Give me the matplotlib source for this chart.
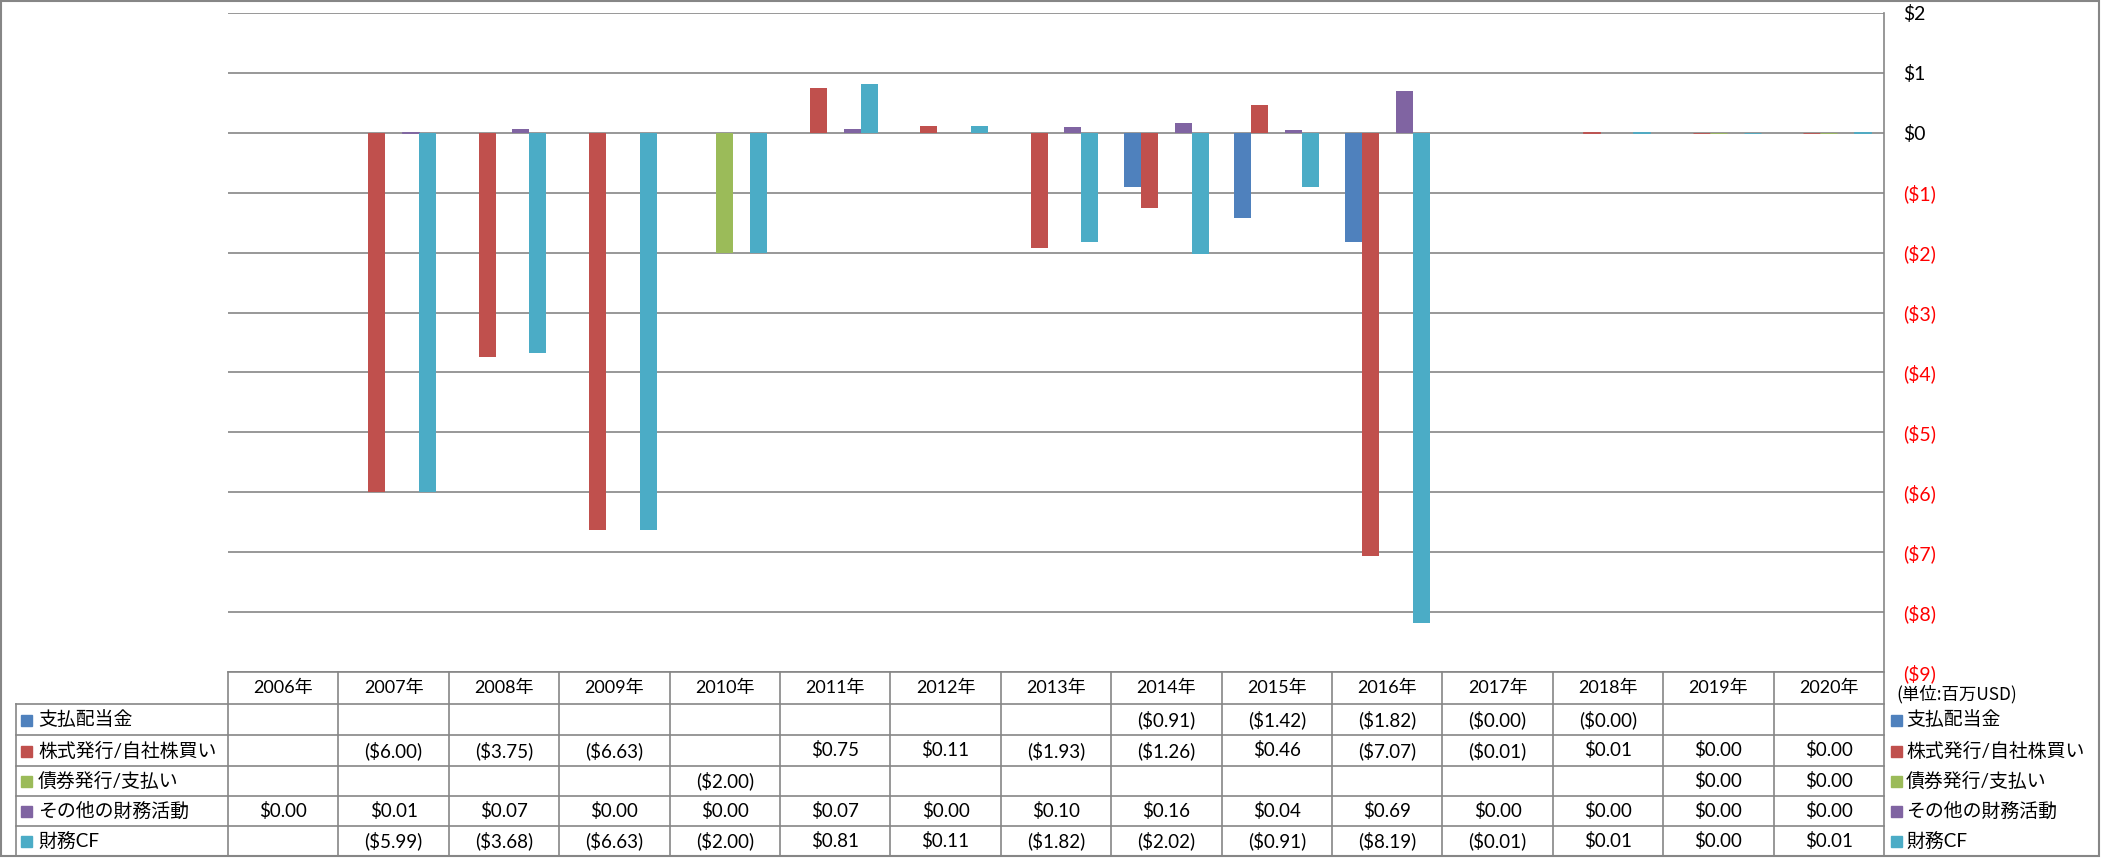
import numpy as np
import matplotlib
matplotlib.use("Agg")
import matplotlib.pyplot as plt
from matplotlib.patches import Rectangle

plt.rcParams['font.family'] = ['Lato', 'Noto Sans CJK JP', 'DejaVu Sans']

# ---------------- data ----------------
years = ["2006年", "2007年", "2008年", "2009年", "2010年", "2011年", "2012年", "2013年",
         "2014年", "2015年", "2016年", "2017年", "2018年", "2019年", "2020年"]
series_names = ["支払配当金", "株式発行/自社株買い", "債券発行/支払い", "その他の財務活動", "財務CF"]
nan = np.nan
dividends = [nan, nan, nan, nan, nan, nan, nan, nan, -0.91, -1.42, -1.82, -0.001, -0.001, nan, nan]
stock = [nan, -6.00, -3.75, -6.63, nan, 0.75, 0.11, -1.93, -1.26, 0.46, -7.07, -0.005, 0.01, 0.0049, 0.0049]
debt = [nan, nan, nan, nan, -2.00, nan, nan, nan, nan, nan, nan, nan, nan, 0.0049, 0.0049]
other = [0.00, 0.01, 0.07, 0.00, 0.00, 0.07, 0.00, 0.10, 0.16, 0.04, 0.69, 0.00, 0.00, 0.00, 0.00]
fin_cf = [nan, -5.99, -3.68, -6.63, -2.00, 0.81, 0.11, -1.82, -2.02, -0.91, -8.19, -0.005, 0.01, 0.0049, 0.01]
yticks = [2, 1, 0, -1, -2, -3, -4, -5, -6, -7, -8, -9]
unit_label = "(単位:百万USD)"

series = [dividends, stock, debt, other, fin_cf]
colors = ["#4F81BD", "#C0504D", "#9BBB59", "#8064A2", "#4BACC6"]

# ---------------- layout ----------------
W, H = 2101, 858
fig = plt.figure(figsize=(W / 100, H / 100), dpi=100)
PL, PR, PT, PB = 228, 1884, 13, 672
GRAY = "#868686"

ax = fig.add_axes([PL / W, 1 - PB / H, (PR - PL) / W, (PB - PT) / H])
n = len(years)
ax.set_xlim(-0.5, n - 0.5)
ax.set_ylim(-9, 2)
bw = 1 / 6.5
x = np.arange(n)
for i, (vals, c) in enumerate(zip(series, colors)):
    v = np.array(vals, dtype=float)
    lws = [0.6 if (np.isfinite(t) and t > 0 and t < 0.02) else 0 for t in v]
    ax.bar(x + (i - 2) * bw, v, width=bw, color=c,
           edgecolor=c, linewidth=lws, zorder=3)

for s in ax.spines.values():
    s.set_visible(False)
ax.set_xticks([])
ax.yaxis.tick_right()
ax.set_yticks(yticks)


def fmt_axis(v):
    return f"${v}" if v >= 0 else f"(${abs(v)})"


ax.set_yticklabels([fmt_axis(v) for v in yticks], fontsize=14)
for lab, v in zip(ax.get_yticklabels(), yticks):
    lab.set_color("black" if v >= 0 else "#FF0000")
ax.tick_params(axis='y', length=0, pad=14)
ax.yaxis.grid(True, color=GRAY, lw=1.2)
ax.set_axisbelow(True)

# ---------------- overlay (table, legend, frame) ----------------
ov = fig.add_axes([0, 0, 1, 1], zorder=5)
ov.set_xlim(0, W)
ov.set_ylim(H, 0)
ov.axis('off')
ov.patch.set_alpha(0)

TL = 16
row_edges = [672, 704, 735, 766, 796, 826, 856]
colw = (PR - PL) / n


def fmt_val(v):
    if np.isnan(v):
        return ""
    if v < 0:
        return f"(${abs(v):.2f})"
    return f"${v:.2f}"


# table lines
ov.plot([PL, PR], [row_edges[0], row_edges[0]], color=GRAY, lw=1.2)
for y in row_edges[1:]:
    ov.plot([TL, PR], [y, y], color=GRAY, lw=1.2)
ov.plot([TL, TL], [row_edges[1], row_edges[-1]], color=GRAY, lw=1.2)
for j in range(n):
    xl = PL + j * colw
    ov.plot([xl, xl], [row_edges[0], row_edges[-1]], color=GRAY, lw=1.2)
ov.plot([PR, PR], [PT, row_edges[-1]], color=GRAY, lw=1.2)

# header
for j, yr in enumerate(years):
    ov.text(PL + (j + 0.5) * colw, (row_edges[0] + row_edges[1]) / 2, yr,
            ha='center', va='center', fontsize=13)

# rows
for i, (name, vals, c) in enumerate(zip(series_names, series, colors)):
    yc = (row_edges[i + 1] + row_edges[i + 2]) / 2
    ov.add_patch(Rectangle((21, yc - 5), 11, 11, color=c))
    ov.text(38, yc, name, ha='left', va='center', fontsize=13.6)
    for j, v in enumerate(vals):
        ov.text(PL + (j + 0.5) * colw, yc, fmt_val(float(v)),
                ha='center', va='center', fontsize=13.5)
    # right legend
    ov.add_patch(Rectangle((1891, yc - 5), 11, 11, color=c))
    ov.text(1906, yc, name, ha='left', va='center', fontsize=13.6)

ov.text(1896, 694, unit_label, ha='left', va='center', fontsize=12.5,
        family=['Noto Sans CJK JP'])

# outer frame
ov.add_patch(Rectangle((1, 1), W - 3, H - 3, fill=False, edgecolor=GRAY, lw=1.5))

fig.savefig("out.png", dpi=100)
